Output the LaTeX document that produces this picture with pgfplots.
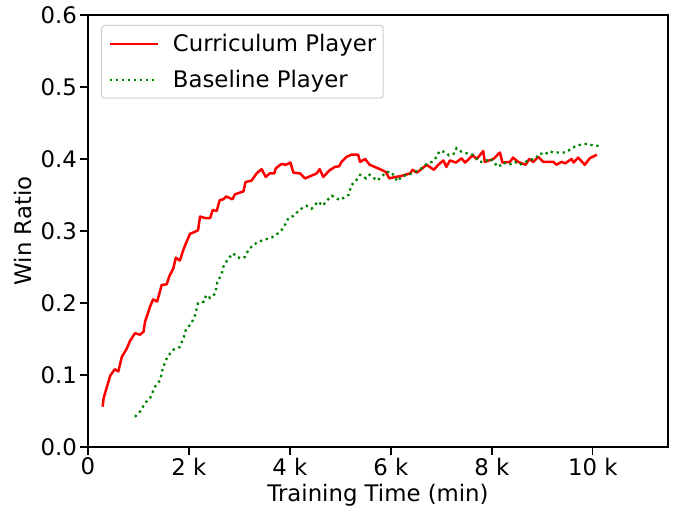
\documentclass[border=0pt]{standalone}
\usepackage{pgfplots}
\pgfplotsset{compat=1.18}
\usepackage{fontspec}
\setmainfont{DejaVu Sans}
\newcommand{\fs}{\fontsize{22.8bp}{27bp}\selectfont}
\definecolor{mplred}{RGB}{255,0,0}
\definecolor{mplgreen}{RGB}{0,128,0}
\definecolor{legendedge}{RGB}{204,204,204}

\begin{document}
\begin{tikzpicture}
\begin{axis}[
  scale only axis, width=580bp, height=432bp,
  xmin=0, xmax=11.49, ymin=0, ymax=0.6,
  xtick={0,2,4,6,8,10},
  xticklabels={0,2 k,4 k,6 k,8 k,10 k},
  ytick={0,0.1,0.2,0.3,0.4,0.5,0.6},
  yticklabels={0.0,0.1,0.2,0.3,0.4,0.5,0.6},
  tick align=outside, xtick pos=bottom, ytick pos=left,
  major tick length=7.5bp,
  tick style={black, line width=1.4bp},
  axis line style={line width=1.4bp},
  ticklabel style={font=\fs},
  xlabel={Training Time (min)}, ylabel={Win Ratio},
  label style={font=\fs},
  xlabel style={at={(axis description cs:0.5,-0.127)}, anchor=base},
  ylabel style={at={(axis description cs:-0.098,0.5)}, anchor=base},
  legend style={at={(0.0224,0.977)}, anchor=north west, font=\fs,
    draw=legendedge, line width=1bp, rounded corners=3bp,
    inner xsep=7bp, inner ysep=9bp, row sep=17bp,
    nodes={inner sep=0bp},
    /tikz/every odd column/.append style={column sep=14bp}},
  legend cell align=left,
  legend image code/.code={\draw[#1] (0bp,0bp) -- (48bp,0bp);},
]
% Curriculum Player
\addplot[mplred, line width=2.5bp, line join=round] coordinates {
(0.29,0.056) (0.31,0.068) (0.44,0.099) (0.53,0.108) (0.60,0.105)
(0.67,0.125) (0.77,0.137) (0.83,0.147) (0.93,0.158) (1.03,0.156)
(1.10,0.160) (1.13,0.174) (1.23,0.195) (1.29,0.205) (1.37,0.202)
(1.46,0.225) (1.56,0.226) (1.61,0.237) (1.69,0.248) (1.74,0.263)
(1.82,0.259) (1.89,0.274) (1.94,0.283) (2.02,0.296) (2.12,0.299)
(2.18,0.301) (2.22,0.320) (2.32,0.318) (2.42,0.318) (2.47,0.329)
(2.55,0.328) (2.61,0.343) (2.68,0.344) (2.74,0.348) (2.86,0.344)
(2.91,0.351) (3.08,0.355) (3.12,0.368) (3.24,0.370) (3.34,0.380)
(3.44,0.386) (3.52,0.375) (3.60,0.380) (3.69,0.380) (3.72,0.387)
(3.83,0.393) (3.92,0.392) (4.01,0.395) (4.07,0.381) (4.20,0.380)
(4.30,0.373) (4.53,0.380) (4.59,0.386) (4.66,0.375) (4.78,0.384)
(4.89,0.389) (4.98,0.390) (5.02,0.396) (5.12,0.403) (5.22,0.406)
(5.35,0.406) (5.39,0.396) (5.49,0.400) (5.58,0.392) (5.78,0.386)
(5.90,0.382) (5.97,0.373) (6.08,0.375) (6.18,0.376) (6.28,0.378)
(6.38,0.380) (6.43,0.385) (6.51,0.381) (6.57,0.384) (6.71,0.392)
(6.85,0.385) (6.94,0.392) (7.04,0.398) (7.10,0.389) (7.17,0.398)
(7.29,0.395) (7.40,0.401) (7.47,0.395) (7.62,0.405) (7.70,0.400)
(7.83,0.411) (7.86,0.396) (8.03,0.400) (8.16,0.409) (8.21,0.395)
(8.36,0.396) (8.42,0.402) (8.52,0.396) (8.67,0.392) (8.74,0.400)
(8.82,0.396) (8.92,0.403) (9.02,0.396) (9.22,0.396) (9.28,0.392)
(9.38,0.396) (9.45,0.394) (9.58,0.400) (9.62,0.395) (9.71,0.402)
(9.84,0.392) (9.94,0.401) (10.08,0.406)
};
\addlegendentry{Curriculum Player}
% Baseline Player
\addplot[mplgreen, line width=2.3bp, dash pattern=on 2.3bp off 3.7bp] coordinates {
(0.93,0.042) (1.03,0.049) (1.13,0.061) (1.23,0.068) (1.33,0.084)
(1.43,0.093) (1.48,0.109) (1.57,0.125) (1.69,0.135) (1.82,0.139)
(1.90,0.153) (1.94,0.163) (2.05,0.172) (2.12,0.183) (2.18,0.200)
(2.30,0.202) (2.34,0.211) (2.42,0.207) (2.52,0.213) (2.56,0.228)
(2.65,0.241) (2.68,0.250) (2.78,0.262) (2.88,0.269) (2.94,0.264)
(3.04,0.262) (3.11,0.264) (3.18,0.274) (3.28,0.281) (3.38,0.285)
(3.50,0.288) (3.64,0.291) (3.77,0.297) (3.87,0.304) (3.97,0.318)
(4.07,0.321) (4.20,0.330) (4.33,0.335) (4.43,0.331) (4.56,0.341)
(4.65,0.335) (4.73,0.342) (4.83,0.349) (4.93,0.345) (4.99,0.343)
(5.16,0.350) (5.22,0.364) (5.29,0.368) (5.39,0.378) (5.51,0.373)
(5.58,0.378) (5.73,0.370) (5.81,0.375) (5.91,0.382) (6.01,0.382)
(6.13,0.369) (6.21,0.375) (6.31,0.378) (6.41,0.380) (6.57,0.385)
(6.71,0.393) (6.81,0.396) (6.91,0.403) (6.96,0.411) (7.07,0.410)
(7.15,0.405) (7.27,0.408) (7.30,0.415) (7.40,0.410) (7.50,0.408)
(7.62,0.406) (7.76,0.396) (7.86,0.396) (7.96,0.401) (8.13,0.389)
(8.23,0.395) (8.34,0.392) (8.46,0.396) (8.55,0.392) (8.67,0.396)
(8.77,0.399) (8.87,0.401) (8.95,0.408) (9.05,0.406) (9.14,0.411)
(9.22,0.409) (9.34,0.409) (9.45,0.409) (9.55,0.413) (9.66,0.418)
(9.77,0.420) (9.88,0.421) (10.00,0.419) (10.14,0.418)
};
\addlegendentry{Baseline Player}
\end{axis}
\pgfresetboundingbox
\useasboundingbox (-88bp,-61bp) rectangle (590bp,447bp);
\end{tikzpicture}
\end{document}
